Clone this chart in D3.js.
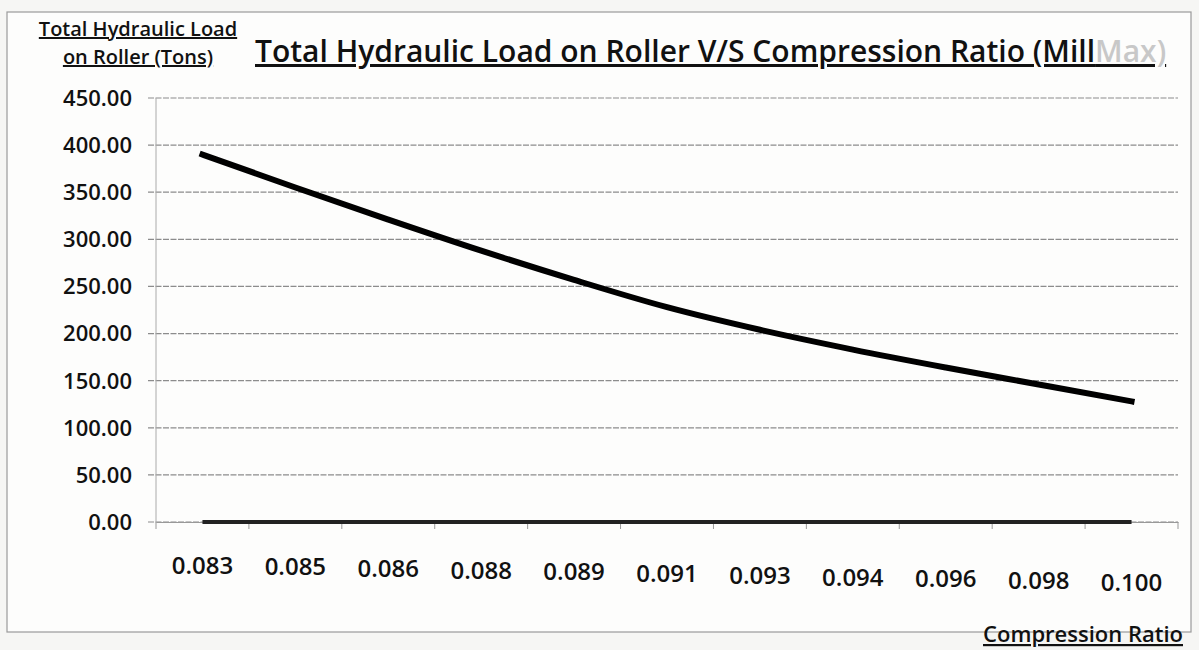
<!DOCTYPE html>
<html>
<head>
<meta charset="utf-8">
<script src="https://cdn.jsdelivr.net/npm/d3@7"></script>
<style>
  body { margin: 0; background: #f6f6f4; }
  text { font-family: "Open Sans", Lato, sans-serif; fill: #111; }
</style>
</head>
<body>
<script>
// compression ratio categories and load values
const ratios = ["0.083", "0.085", "0.086", "0.088", "0.089", "0.091", "0.093", "0.094", "0.096", "0.098", "0.100"];
const loads = [390, 355, 321, 288, 257, 228, 204, 183, 164, 146, 128];
const zeroLine = [0, 0, 0, 0, 0, 0, 0, 0, 0, 0, 0];
const yTicks = [0, 50, 100, 150, 200, 250, 300, 350, 400, 450];

const width = 1199;
const height = 650;

const svg = d3.select('body')
    .append('svg')
    .attr('width', width)
    .attr('height', height);

// chart frame
svg.append('rect')
    .attr('x', 7).attr('y', 12)
    .attr('width', 1184).attr('height', 620)
    .attr('fill', '#fdfdfc')
    .attr('stroke', '#9a9a9a')
    .attr('stroke-width', 1.2);

const plotLeft = 156, plotRight = 1178, plotTop = 98, plotBottom = 522;

const x = d3.scaleBand().domain(ratios).range([plotLeft, plotRight]);
const y = d3.scaleLinear().domain([0, 450]).range([plotBottom, plotTop]);
const cx = d => x(d) + x.bandwidth() / 2;

// gridlines
svg.append('g')
    .selectAll('line')
    .data(yTicks)
    .enter()
    .append('line')
    .attr('x1', plotLeft - 8).attr('x2', plotRight)
    .attr('y1', d => y(d)).attr('y2', d => y(d))
    .attr('stroke', '#8c8c8c')
    .attr('stroke-width', 1.2)
    .attr('stroke-dasharray', '6,1.5');

// y axis line
svg.append('line')
    .attr('x1', plotLeft).attr('x2', plotLeft)
    .attr('y1', plotTop).attr('y2', plotBottom)
    .attr('stroke', '#aaa');

// x axis with category ticks between bands
const xAxis = d3.axisBottom(x).tickSize(0).tickFormat('');
svg.append('g')
    .attr('transform', `translate(0,${plotBottom})`)
    .call(xAxis)
    .call(g => g.select('.domain').attr('stroke', '#999'));
svg.append('g')
    .selectAll('line')
    .data(ratios.concat(['end']))
    .enter()
    .append('line')
    .attr('x1', (d, i) => plotLeft + i * x.bandwidth())
    .attr('x2', (d, i) => plotLeft + i * x.bandwidth())
    .attr('y1', plotBottom).attr('y2', plotBottom + 7)
    .attr('stroke', '#999');

// y tick labels
svg.append('g')
    .selectAll('text')
    .data(yTicks)
    .enter()
    .append('text')
    .attr('x', 132)
    .attr('y', d => y(d))
    .attr('dy', '0.36em')
    .attr('text-anchor', 'end')
    .attr('font-size', 22)
    .attr('font-weight', 600)
    .text(d => d.toFixed(2));

// x tick labels
svg.append('g')
    .selectAll('text')
    .data(ratios)
    .enter()
    .append('text')
    .attr('x', d => cx(d))
    .attr('y', (d, i) => 565 + i * 1.7)
    .attr('dy', '0.36em')
    .attr('text-anchor', 'middle')
    .attr('font-size', 24)
    .attr('font-weight', 600)
    .text(d => d);

const line = d3.line()
    .x((d, i) => cx(ratios[i]))
    .y(d => y(d))
    .curve(d3.curveMonotoneX);

svg.append('path')
    .datum(zeroLine)
    .attr('d', line)
    .attr('fill', 'none')
    .attr('stroke', '#222')
    .attr('stroke-width', 4);

svg.append('path')
    .datum(loads)
    .attr('d', line)
    .attr('fill', 'none')
    .attr('stroke', '#000')
    .attr('stroke-width', 6)
    .attr('stroke-linecap', 'square');

// titles
const title = svg.append('text')
    .attr('x', 255)
    .attr('y', 62)
    .attr('font-size', 30)
    .attr('font-weight', 600)
    .attr('text-decoration', 'underline');
title.append('tspan').text('Total Hydraulic Load on Roller V/S Compression Ratio (Mill');
title.append('tspan').style('fill', '#c8c8c8').text('Max)');

svg.append('text')
    .attr('x', 138).attr('y', 36)
    .attr('text-anchor', 'middle')
    .attr('font-size', 20)
    .attr('font-weight', 600)
    .attr('text-decoration', 'underline')
    .text('Total Hydraulic Load');
svg.append('text')
    .attr('x', 138).attr('y', 64)
    .attr('text-anchor', 'middle')
    .attr('font-size', 20)
    .attr('font-weight', 600)
    .attr('text-decoration', 'underline')
    .text('on Roller (Tons)');

svg.append('text')
    .attr('x', 1183).attr('y', 642)
    .attr('text-anchor', 'end')
    .attr('font-size', 22)
    .attr('font-weight', 600)
    .attr('text-decoration', 'underline')
    .text('Compression Ratio');
</script>
</body>
</html>
